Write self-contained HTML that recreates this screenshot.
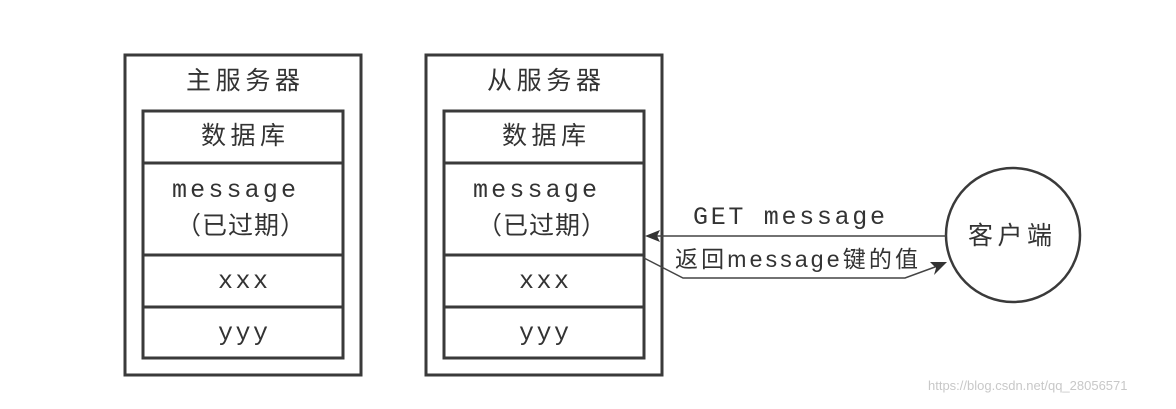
<!DOCTYPE html>
<html><head><meta charset="utf-8"><style>
body{margin:0;background:#fff;width:1176px;height:404px;overflow:hidden}
</style></head><body>
<svg width="1176" height="404" xmlns="http://www.w3.org/2000/svg">
<g fill="none" stroke="#3a3a3a" stroke-width="3">
<rect x="125" y="55" width="236" height="320"/>
<rect x="143" y="111" width="200" height="247"/>
<line x1="143" y1="163" x2="343" y2="163"/>
<line x1="143" y1="255" x2="343" y2="255"/>
<line x1="143" y1="307" x2="343" y2="307"/>
<rect x="426" y="55" width="236" height="320"/>
<rect x="444" y="111" width="200" height="247"/>
<line x1="444" y1="163" x2="644" y2="163"/>
<line x1="444" y1="255" x2="644" y2="255"/>
<line x1="444" y1="307" x2="644" y2="307"/>
<circle cx="1013" cy="235" r="67" stroke-width="2.5"/>
</g>
<g stroke="#444" stroke-width="1.5" fill="none">
<line x1="946" y1="236" x2="656" y2="236"/>
<polyline points="644,258 683,278 905,278 935,267"/>
</g>
<polygon points="645,236 660,230 657,236 660,242" fill="#333"/>
<polygon points="947,262 930,262 936,268 934,275" fill="#333"/>
<g font-family="'Liberation Sans','Noto Sans CJK SC',sans-serif" font-size="25" fill="#333" lengthAdjust="spacing">
<text x="186" y="89" textLength="114" lengthAdjust="spacing">主服务器</text>
<text x="201" y="144" textLength="84" lengthAdjust="spacing">数据库</text>
<text x="487" y="89" textLength="114" lengthAdjust="spacing">从服务器</text>
<text x="502" y="144" textLength="84" lengthAdjust="spacing">数据库</text>
<text x="176" y="234" textLength="129" lengthAdjust="spacing">（已过期）</text>
<text x="477" y="234" textLength="129" lengthAdjust="spacing">（已过期）</text>
<text x="968" y="244" textLength="84" lengthAdjust="spacing">客户端</text>
<text x="675" y="267" font-size="23" textLength="243" lengthAdjust="spacing">返回message键的值</text>
</g>
<g font-family="'Liberation Mono',monospace" font-size="25" fill="#333">
<text x="172" y="197" textLength="124" lengthAdjust="spacing">message</text>
<text x="473" y="197" textLength="124" lengthAdjust="spacing">message</text>
<text x="218" y="288" textLength="50" lengthAdjust="spacing">xxx</text>
<text x="519" y="288" textLength="50" lengthAdjust="spacing">xxx</text>
<text x="218" y="340" textLength="50" lengthAdjust="spacing">yyy</text>
<text x="519" y="340" textLength="50" lengthAdjust="spacing">yyy</text>
<text x="693" y="224" textLength="192" lengthAdjust="spacing">GET message</text>
</g>
<text x="928" y="390" font-family="'Liberation Sans',sans-serif" font-size="13" fill="#c8c8c8">https://blog.csdn.net/qq_28056571</text>
</svg>
</body></html>
